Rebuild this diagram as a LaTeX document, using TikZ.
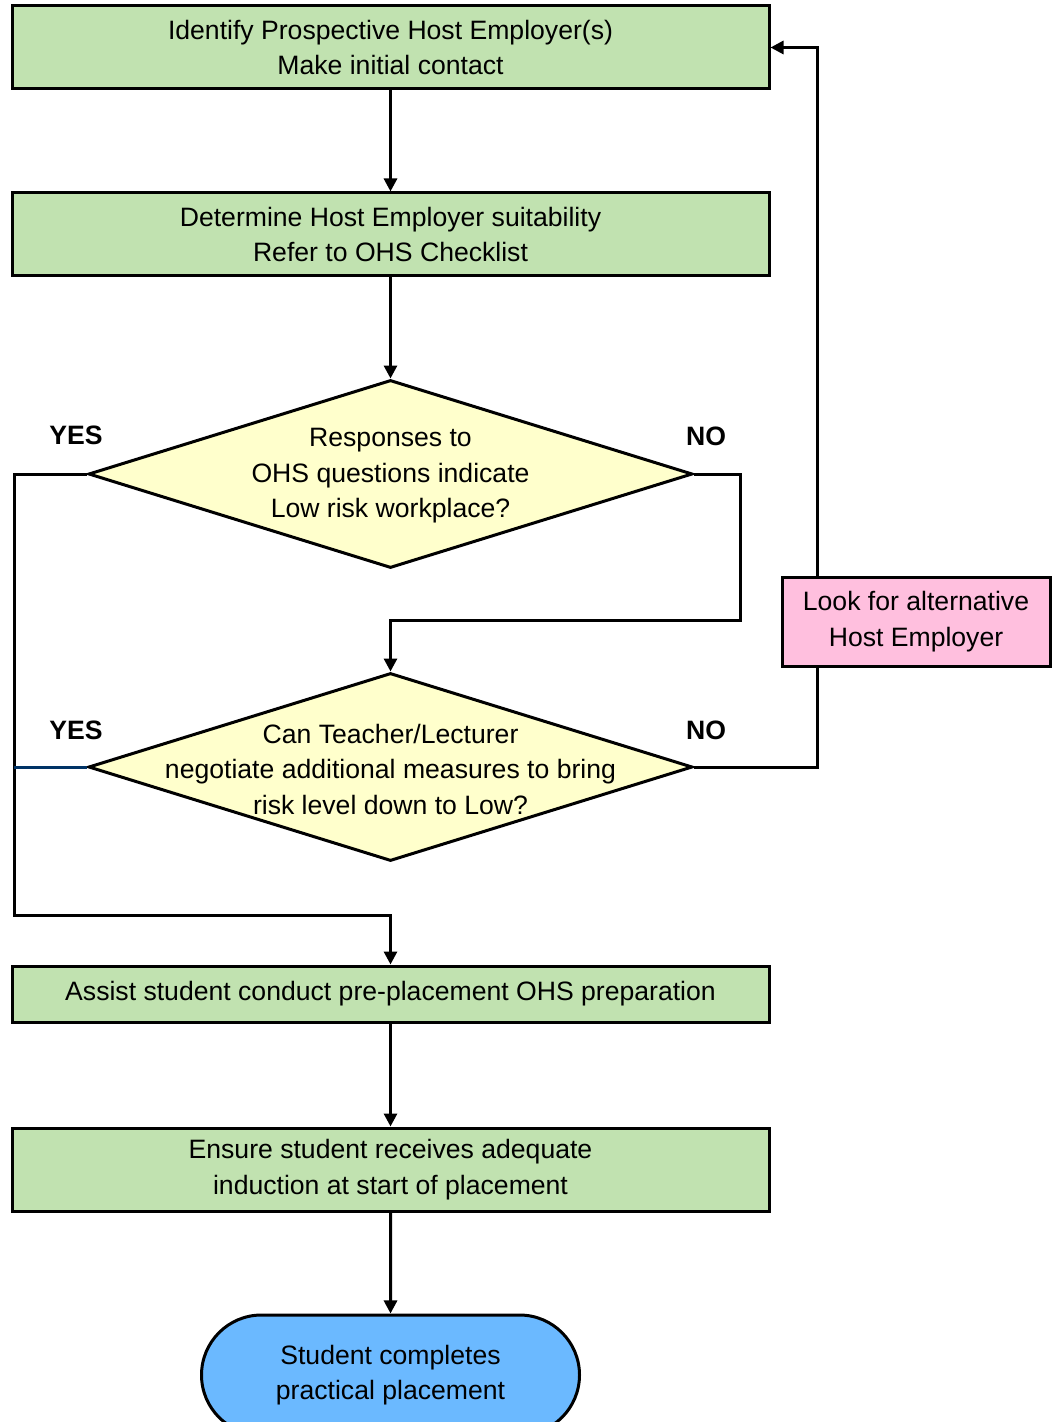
\documentclass[tikz,border=0pt]{standalone}
\usepackage{fontspec}
\setmainfont{Liberation Sans}
\usetikzlibrary{shapes.geometric,shapes.misc,arrows.meta}

\definecolor{task area}{RGB}{193,226,176}
\definecolor{query area}{RGB}{255,255,204}
\definecolor{retry area}{RGB}{255,191,222}
\definecolor{end area}{RGB}{107,185,255}
\definecolor{yes edge}{RGB}{0,51,102}

\begin{document}
\begin{tikzpicture}[x=0.5pt,y=-0.5pt,line width=1.5pt,font=\fontsize{13.3}{17.75}\selectfont,
  task/.style={draw=black, fill=task area, minimum width=378.5pt, minimum height=41.5pt, inner sep=0pt, align=center},
  query/.style={draw=black, fill=query area, diamond, minimum width=302pt, minimum height=94pt, inner sep=0pt},
  retry/.style={draw=black, fill=retry area, minimum width=134pt, minimum height=44.5pt, inner sep=0pt, align=center},
  finish/.style={draw=black, fill=end area, rounded rectangle, minimum width=189pt, minimum height=60pt, inner sep=0pt, align=center},
  answer/.style={font=\fontsize{13.3}{16}\selectfont\bfseries},
  flow/.style={-{Triangle[length=6.5pt,width=6.5pt]}}]
\useasboundingbox (0,0) rectangle (1052,1422);

    \node[task] (identify) at (390.5,47.5) {Identify Prospective Host Employer(s)\\Make initial contact};
    \node[task] (suitability) at (390.5,234.5) {Determine Host Employer suitability\\Refer to OHS Checklist};
    \node[query, label={[align=center,yshift=-1pt]center:Responses to\\OHS questions indicate\\Low risk workplace?}] (lowrisk) at (390.5,474) {};
    \node[query, label={[align=center,yshift=-1pt]center:Can Teacher/Lecturer\\negotiate additional measures to bring\\risk level down to Low?}] (negotiate) at (390.5,767) {};
    \node[retry] (alternative) at (916,621.5) {Look for alternative\\Host Employer};
    \node[task, minimum height=28pt] (prep) at (390.5,994) {Assist student conduct pre-placement OHS preparation};
    \node[task] (induction) at (390.5,1169.5) {Ensure student receives adequate\\induction at start of placement};
    \node[finish] (complete) at (390.5,1375) {Student completes\\practical placement};

    \node[answer] (yes1) at (76,435) {YES};
    \node[answer] (no1) at (706,436) {NO};
    \node[answer] (yes2) at (76,730) {YES};
    \node[answer] (no2) at (706,730) {NO};

    % loop back to the first step
    \coordinate (bypass) at (817,0);

    \draw[flow] (identify) -- (suitability);
    \draw[flow] (suitability) -- (lowrisk);
    \draw[flow] (lowrisk.east) -| (740,620) -| (negotiate.north);
    \draw[flow] (lowrisk.west) -| (14,915) -| (prep.north);
    \draw[yes edge] (negotiate.west) -- (14,767);
    \draw (negotiate.east) -| (bypass |- alternative.south);
    \draw[flow] (bypass |- alternative.north) |- (identify.east);
    \draw[flow] (prep) -- (induction);
    \draw[flow] (induction) -- (complete);

\end{tikzpicture}
\end{document}
